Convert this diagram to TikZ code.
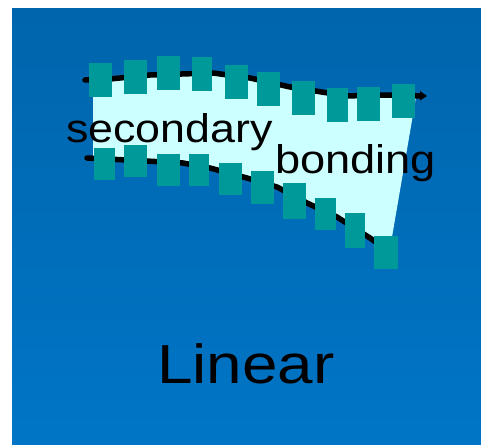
\documentclass[tikz,border=0pt]{standalone}
\usepackage{fontspec}
\setmainfont{Liberation Sans}
\usetikzlibrary{arrows.meta}
\definecolor{bgtop}{RGB}{0,101,172}
\definecolor{bgbot}{RGB}{0,117,198}
\definecolor{pale}{RGB}{204,255,255}
\definecolor{teal2}{RGB}{0,153,153}
\tikzset{
  sq/.style={fill=teal2, draw=none, minimum width=23pt, minimum height=34pt, inner sep=0pt},
  chain/.style={line width=5.5pt, black, line join=round, line cap=round},
  lbl/.style={inner sep=0pt, anchor=base west, font=\fontsize{40}{48}\selectfont},
  biglbl/.style={inner sep=0pt, anchor=base west, font=\fontsize{55}{64}\selectfont}
}
\begin{document}
\begin{tikzpicture}[x=1pt,y=-1pt]
\useasboundingbox (0,0) rectangle (481,444);
\shade[top color=bgtop, bottom color=bgbot] (12,9) rectangle (481,444);
% pale band
\fill[pale] (93,80) -- (150,75) -- (213,73) -- (250,78) -- (290,87) -- (347,96) -- (416,97)
  -- (392,237) -- (370,238) -- (337,217) -- (307,203) -- (277,187) -- (247,178)
  -- (210,168) -- (183,163) -- (127,160) -- (93,158) -- cycle;
% chains
\coordinate (t0) at (85,80);
\coordinate (t9) at (427,96);
\coordinate (b0) at (87,158);
\coordinate (b9) at (377,243);
\draw[chain, -{Triangle[length=7pt,width=9pt]}] (t0) -- (110,79) -- (150,75) -- (213,73) -- (250,78) -- (290,87) -- (347,96) -- (380,95) -- (t9);
\draw[chain] (b0) -- (127,160) -- (183,163) -- (210,168) -- (247,178) -- (277,187) -- (307,203) -- (337,217) -- (370,238) -- (b9);
% top squares
\node[sq] (s1) at (100.5,80) {};
\node[sq] (s2) at (135.5,77) {};
\node[sq] (s3) at (168,72.5) {};
\node[sq, minimum width=20pt] (s4) at (202,74) {};
\node[sq] (s5) at (236,81.5) {};
\node[sq] (s6) at (268,88.5) {};
\node[sq] (s7) at (303.5,97.5) {};
\node[sq, minimum width=21pt] (s8) at (337.5,105) {};
\node[sq] (s9) at (368.5,103.5) {};
\node[sq] (s10) at (403.5,100.5) {};
% bottom squares
\node[sq, minimum width=21pt, minimum height=32pt] (u1) at (104.5,164) {};
\node[sq, minimum height=32pt] (u2) at (135.5,161) {};
\node[sq, minimum height=32pt] (u3) at (168,170) {};
\node[sq, minimum width=20pt, minimum height=32pt] (u4) at (199,170) {};
\node[sq, minimum height=32pt] (u5) at (230,179) {};
\node[sq, minimum height=33pt] (u6) at (262.5,187.5) {};
\node[sq, minimum height=36pt] (u7) at (294.5,201) {};
\node[sq, minimum width=21pt, minimum height=32pt] (u8) at (325.5,214) {};
\node[sq, minimum width=20pt, minimum height=35pt] (u9) at (355,230.5) {};
\node[sq, minimum width=24pt, minimum height=33pt] (u10) at (386,252.5) {};
% labels
\node[lbl] (sec) at (66,142) {\scalebox{1.12}[1]{secondary}};
\node[lbl] (bond) at (275,173) {\scalebox{1.13}[1]{bonding}};
\node[biglbl] (lin) at (157,383) {\scalebox{1.16}[1]{Linear}};
\end{tikzpicture}
\end{document}
